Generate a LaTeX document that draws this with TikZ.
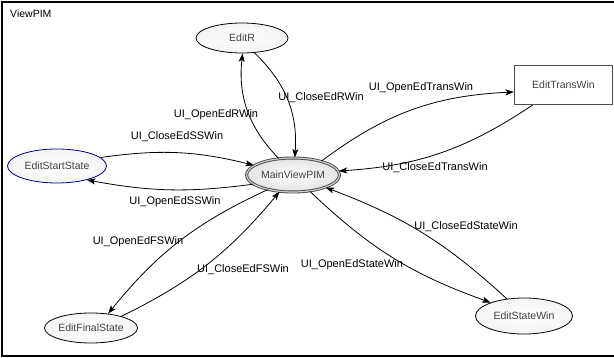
\documentclass[tikz,border=0pt]{standalone}
\usepackage{fontspec}
\setmainfont{Liberation Sans}
\usetikzlibrary{arrows.meta,shapes.geometric}
\begin{document}
\begin{tikzpicture}[x=1pt,y=-1pt]
\tikzset{
 st/.style={ellipse, draw=black, line width=0.8pt, inner sep=0pt, inner color=white, outer color=gray!9, font=\fontsize{10.5}{12}\selectfont, text=black!75},
 mainst/.style={st, draw=gray!60!black, double=gray!40, double distance=1.2pt, line width=0.9pt, inner color=white, outer color=gray!22},
 boxst/.style={rectangle, draw=gray!60!black, line width=1.2pt, fill=white, inner sep=0pt, font=\fontsize{10.5}{12}\selectfont, text=black!75},
 lbl/.style={font=\fontsize{11}{13}\selectfont, inner sep=0pt},
 tr/.style={line width=0.8pt, -{Stealth[length=8.5pt,width=6pt,inset=2pt]}},
}
\useasboundingbox (0,0) rectangle (614,358);
\draw[line width=1.8pt] (620,2) -- (2,2) -- (2,356) -- (620,356);
\node[lbl, anchor=west, font=\fontsize{10.5}{12}\selectfont] (title) at (10,14) {ViewPIM};

\node[st, minimum width=92pt, minimum height=30pt] (editr) at (242,38) {EditR};
\node[st, draw=blue!55!black, minimum width=99pt, minimum height=34pt] (ess) at (57,166) {EditStartState};
\node[mainst, minimum width=93pt, minimum height=34pt] (main) at (293,175) {MainViewPIM};
\node[boxst, minimum width=98pt, minimum height=39pt] (etw) at (563.5,85) {EditTransWin};
\node[st, minimum width=93pt, minimum height=30pt] (efs) at (91,328) {EditFinalState};
\node[st, minimum width=97pt, minimum height=36pt] (esw) at (524,316) {EditStateWin};

\draw[tr] (main.131) to[bend left=25] (editr.272);
\draw[tr] (editr.310) to[bend left=25] (main.84);
\draw[tr] (ess.11) to[bend left=11] (main.166);
\draw[tr] (main.193) to[bend left=9] (ess.335);
\draw[tr] (main.210) to[bend right=13] (efs.40);
\draw[tr] (efs.21) to[bend right=12] (main.231);
\draw[tr] (main.316) to[bend right=12] (esw.158);
\draw[tr] (esw.135) to[bend right=11] (main.339);
\draw[tr] (main.26) to[bend left=17] (etw.188);
\draw[tr] (etw.213) to[bend left=15] (main.5);

\node[lbl] (l1) at (216,115) {UI\_OpenEdRWin};
\node[lbl] (l2) at (321,98) {UI\_CloseEdRWin};
\node[lbl] (l3) at (177,137) {UI\_CloseEdSSWin};
\node[lbl] (l4) at (175,202) {UI\_OpenEdSSWin};
\node[lbl] (l5) at (138,242) {UI\_OpenEdFSWin};
\node[lbl] (l6) at (243,270) {UI\_CloseEdFSWin};
\node[lbl] (l7) at (352,265) {UI\_OpenEdStateWin};
\node[lbl] (l8) at (466,227) {UI\_CloseEdStateWin};
\node[lbl] (l9) at (421,88) {UI\_OpenEdTransWin};
\node[lbl] (l10) at (435,168) {UI\_CloseEdTransWin};
\end{tikzpicture}
\end{document}
